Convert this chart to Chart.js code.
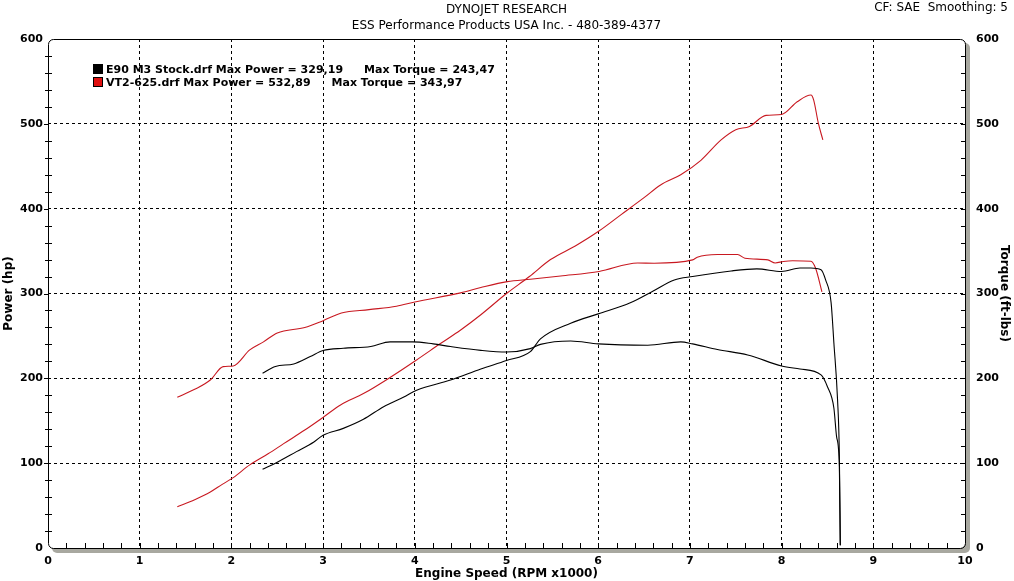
<!DOCTYPE html>
<html lang="en">
<head>
<meta charset="UTF-8">
<title>Dynojet Research</title>
<script src="https://cdn.jsdelivr.net/npm/chart.js"></script>
<style>
  html, body { margin: 0; padding: 0; background: #fff; }
</style>
</head>
<body>
<canvas id="dyno" width="1014" height="581"></canvas>
<script>
// run names and the summary numbers shown in the legend
const runNames = ['E90 M3 Stock.drf', 'VT2-625.drf'];
const runColors = ['#000000', 'rgb(200,24,32)'];
const legendFill = ['#000000', '#e01010'];
const maxPower = ['329,19', '532,89'];
const maxTorque = ['243,47', '343,97'];

// E90 stock (black)
const e90PowerRpm = [2.34, 2.48, 2.71, 2.9, 3.0, 3.22, 3.44, 3.66, 3.88, 4.02, 4.39, 4.72, 5.0, 5.26, 5.37, 5.7, 6.0, 6.35, 6.6, 6.83, 7.03, 7.45, 7.73, 8.0, 8.2, 8.32, 8.43, 8.48, 8.54, 8.57, 8.61, 8.63, 8.64];
const e90Power = [92.8, 100, 113.6, 125, 133, 141, 151.7, 166.6, 178, 186, 198, 211, 221, 231.5, 246.5, 265, 276, 289, 303, 316, 320, 326.6, 329, 326, 330, 330, 328, 316, 289, 242, 175, 108, 3];
const e90TorqueRpm = [2.34, 2.48, 2.68, 2.86, 3.0, 3.22, 3.52, 3.73, 3.98, 4.2, 4.39, 4.72, 5.0, 5.26, 5.37, 5.7, 6.0, 6.54, 6.9, 7.03, 7.3, 7.63, 8.0, 8.2, 8.43, 8.5, 8.57, 8.6, 8.63, 8.64];
const e90Torque = [206, 214, 217, 225.6, 232.7, 235.5, 237.5, 243, 243, 240.6, 237.5, 233, 231, 235, 240, 244, 240.6, 239, 243, 240.6, 234, 227.6, 214.6, 211, 204, 190, 165, 131, 96, 3.5];

// VT2-625 (red)
const vt2PowerRpm = [1.41, 1.6, 1.77, 1.9, 2.02, 2.2, 2.4, 2.57, 2.8, 3.0, 3.19, 3.44, 3.73, 4.02, 4.28, 4.5, 4.72, 5.0, 5.25, 5.48, 5.75, 6.0, 6.25, 6.5, 6.68, 6.9, 7.12, 7.34, 7.5, 7.65, 7.83, 8.0, 8.17, 8.32, 8.35, 8.4, 8.45];
const vt2Power = [48.7, 57, 66, 75, 83, 98, 111, 123, 139, 154, 168.6, 182, 201, 221.7, 241, 257, 275, 300, 320, 340, 356, 373, 393, 413, 428, 440, 457, 481, 493, 497, 510, 511, 526, 534, 528, 501, 481];
const vt2TorqueRpm = [1.41, 1.6, 1.77, 1.91, 2.02, 2.2, 2.35, 2.5, 2.8, 3.0, 3.2, 3.5, 3.8, 4.0, 4.5, 4.72, 5.01, 5.26, 5.59, 6.01, 6.43, 6.61, 7.03, 7.08, 7.3, 7.52, 7.6, 7.85, 7.93, 8.02, 8.12, 8.32, 8.37, 8.44];
const vt2Torque = [177.7, 187, 198, 213.8, 214.6, 233.5, 243, 253.5, 260, 268, 277, 281, 285, 290, 300.7, 307, 314, 316.8, 320.7, 326, 336, 335.7, 339.6, 342.8, 346, 346, 341.6, 339.6, 336, 337.8, 338.6, 338, 330, 302];

function pairs(xs, ys) {
  return xs.map((x, i) => ({ x: x, y: ys[i] }));
}

const boldFont = size => ({ family: 'DejaVu Sans', size: size, weight: 'bold' });

// frame with rounded corners and grey drop shadow, plus the small tick marks
const framePlugin = {
  id: 'frame',
  beforeDraw(chart) {
    const { ctx, chartArea: a } = chart;
    ctx.save();
    ctx.fillStyle = '#a8a8a0';
    ctx.beginPath();
    ctx.roundRect(a.left + 4, a.top + 4, a.right - a.left + 1, a.bottom - a.top + 1, 5);
    ctx.fill();
    ctx.fillStyle = '#ffffff';
    ctx.beginPath();
    ctx.roundRect(a.left, a.top, a.right - a.left, a.bottom - a.top, 5);
    ctx.fill();
    ctx.restore();
  },
  afterDraw(chart) {
    const { ctx, chartArea: a, scales } = chart;
    ctx.save();
    ctx.strokeStyle = '#000';
    ctx.lineWidth = 1;
    ctx.beginPath();
    ctx.roundRect(a.left + 0.5, a.top + 0.5, a.right - a.left, a.bottom - a.top, 5);
    ctx.stroke();

    ctx.beginPath();
    for (let v = 20; v < 600; v += 20) {
      const y = Math.round(scales.y.getPixelForValue(v)) + 0.5;
      if (v % 100 === 0) {
        ctx.moveTo(a.left - 4, y); ctx.lineTo(a.left, y);
      } else {
        ctx.moveTo(a.left - 3, y); ctx.lineTo(a.left + 4, y);
      }
      const y2 = Math.round(scales.y1.getPixelForValue(v)) + 0.5;
      ctx.moveTo(a.right - 4, y2); ctx.lineTo(a.right, y2);
    }
    for (let k = 1; k < 50; k++) {
      const x = Math.round(scales.x.getPixelForValue(k / 5)) + 0.5;
      ctx.moveTo(x, a.bottom); ctx.lineTo(x, a.bottom - 5);
    }
    ctx.stroke();
    ctx.restore();
  }
};

// header lines and the legend block in the top left of the plot
const textPlugin = {
  id: 'texts',
  afterDraw(chart) {
    const { ctx, chartArea: a } = chart;
    const mid = (a.left + a.right) / 2;
    ctx.save();
    ctx.fillStyle = '#000';
    ctx.textBaseline = 'middle';
    ctx.font = '12px "DejaVu Sans"';
    ctx.textAlign = 'center';
    ctx.fillText('DYNOJET RESEARCH', mid, 10);
    ctx.fillText('ESS Performance Products USA Inc. - 480-389-4377', mid, 26);
    ctx.textAlign = 'right';
    ctx.fillText('CF: SAE  Smoothing: 5', 1008, 8);

    ctx.textAlign = 'left';
    ctx.font = 'bold 11px "DejaVu Sans"';
    runNames.forEach((name, i) => {
      const y = a.top + 30 + i * 13;
      ctx.fillStyle = legendFill[i];
      ctx.fillRect(a.left + 45, y - 5, 10, 10);
      ctx.strokeStyle = '#000';
      ctx.lineWidth = 1;
      ctx.strokeRect(a.left + 45.5, y - 4.5, 9, 9);
      ctx.fillStyle = '#000';
      const first = name + ' Max Power = ' + maxPower[i];
      ctx.fillText(first, a.left + 58, y + 1);
      const w = ctx.measureText(first).width;
      ctx.fillText('Max Torque = ' + maxTorque[i], a.left + 58 + w + 21, y + 1);
    });
    ctx.restore();
  }
};

const hideEdge = c => (c.tick && (c.tick.value === c.scale.min || c.tick.value === c.scale.max)) ? 'rgba(0,0,0,0)' : '#000';

new Chart(document.getElementById('dyno'), {
  type: 'line',
  data: {
    datasets: [
      { label: 'E90 power', data: pairs(e90PowerRpm, e90Power), yAxisID: 'y', borderColor: runColors[0] },
      { label: 'E90 torque', data: pairs(e90TorqueRpm, e90Torque), yAxisID: 'y1', borderColor: runColors[0] },
      { label: 'VT2 power', data: pairs(vt2PowerRpm, vt2Power), yAxisID: 'y', borderColor: runColors[1] },
      { label: 'VT2 torque', data: pairs(vt2TorqueRpm, vt2Torque), yAxisID: 'y1', borderColor: runColors[1] }
    ]
  },
  options: {
    responsive: false,
    animation: false,
    devicePixelRatio: 1,
    layout: { padding: { top: 39, left: 0, right: 0, bottom: 0 } },
    elements: {
      point: { radius: 0 },
      line: { borderWidth: 1.1, cubicInterpolationMode: 'monotone', fill: false }
    },
    plugins: { legend: { display: false }, tooltip: { enabled: false } },
    scales: {
      x: {
        type: 'linear', min: 0, max: 10,
        ticks: { stepSize: 1, color: '#000', font: boldFont(11), padding: 7, maxRotation: 0 },
        grid: { color: hideEdge, lineWidth: 1, drawTicks: false },
        border: { display: false, dash: [3, 3] },
        title: { display: true, text: 'Engine Speed (RPM x1000)', color: '#000', font: boldFont(12), padding: { top: 0, bottom: 0 } },
        afterFit: s => { s.height = 33; }
      },
      y: {
        position: 'left', min: 0, max: 600,
        ticks: { stepSize: 100, color: '#000', font: boldFont(11), padding: 5 },
        grid: { color: hideEdge, lineWidth: 1, drawTicks: false },
        border: { display: false, dash: [3, 3] },
        title: { display: true, text: 'Power (hp)', color: '#000', font: boldFont(12), padding: { top: 2, bottom: 0 } },
        afterFit: s => { s.width = 48; }
      },
      y1: {
        position: 'right', min: 0, max: 600,
        ticks: { stepSize: 100, color: '#000', font: boldFont(11), padding: 11 },
        grid: { display: false, drawTicks: false },
        border: { display: false },
        title: { display: true, text: 'Torque (ft-lbs)', color: '#000', font: boldFont(12), padding: { top: 3, bottom: 0 } },
        afterFit: s => { s.width = 49; }
      }
    }
  },
  plugins: [framePlugin, textPlugin]
});
</script>
</body>
</html>
